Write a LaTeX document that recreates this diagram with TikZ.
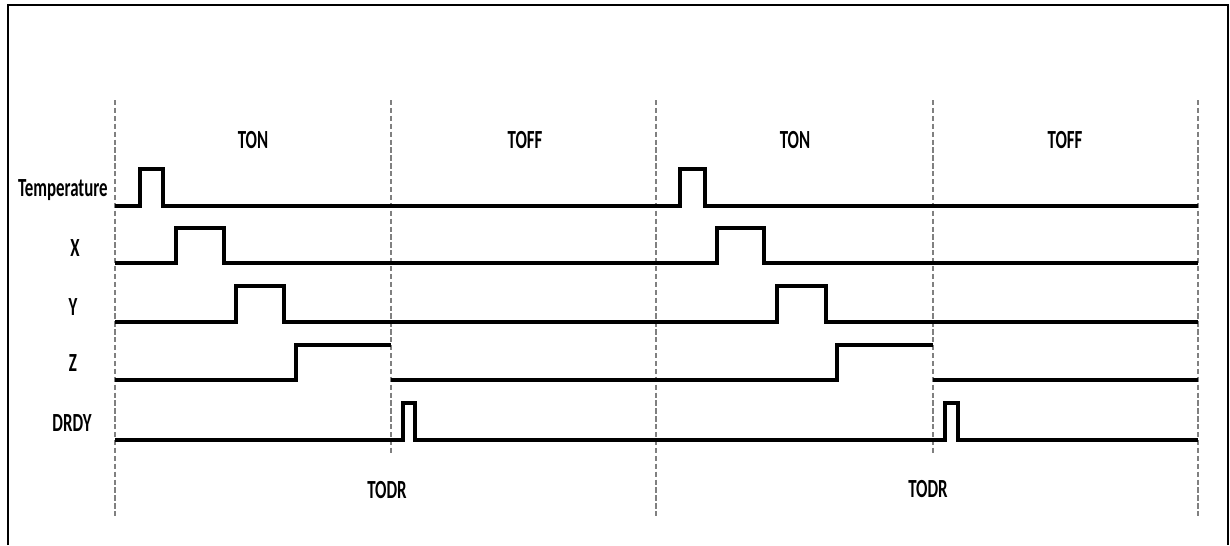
\documentclass[tikz,border=0pt]{standalone}
\usepackage{fontspec}
\setmainfont{Carlito}
\newcommand{\tall}[1]{\scalebox{1}[1.55]{#1}}
\tikzset{
  sig/.style={line width=1.8pt,line join=miter},
  grid/.style={gray,line width=0.75pt,dash pattern=on 3pt off 1.5pt},
  lbl/.style={inner sep=0pt,font=\bfseries\fontsize{9.6}{11}\selectfont}
}
\begin{document}
\begin{tikzpicture}[x=0.02cm,y=-0.02cm]
\useasboundingbox (0,0) rectangle (1230,545);
\draw[line width=1.4pt] (8,545)--(8,5)--(1228,5)--(1228,545);

% period lines
\draw[grid] (115,100)--(115,518);
\draw[grid] (391,100)--(391,455);
\draw[grid] (656,100)--(656,518);
\draw[grid] (933,100)--(933,455);
\draw[grid] (1198,100)--(1198,518);

\node[lbl] (ton1) at (253,140) {\tall{TON}};
\node[lbl] (toff1) at (525,140) {\tall{TOFF}};
\node[lbl] (ton2) at (795,140) {\tall{TON}};
\node[lbl] (toff2) at (1065,140) {\tall{TOFF}};
\node[lbl] (todr1) at (387,490) {\tall{TODR}};
\node[lbl] (todr2) at (928,489) {\tall{TODR}};

\node[lbl,anchor=east] (temp) at (108,190) {\tall{Temperature}};
\node[lbl] (xl) at (75,248) {\tall{X}};
\node[lbl] (yl) at (73,307) {\tall{Y}};
\node[lbl] (zl) at (73,363) {\tall{Z}};
\node[lbl] (drdy) at (72,423) {\tall{DRDY}};

% signals
\draw[sig] (115,206)--(140,206)--(140,169)--(163,169)--(163,206)--(680,206)--(680,169)--(705,169)--(705,206)--(1198,206);
\draw[sig] (115,263)--(176,263)--(176,228)--(224,228)--(224,263)--(717,263)--(717,228)--(764,228)--(764,263)--(1198,263);
\draw[sig] (115,322)--(236,322)--(236,286)--(284,286)--(284,322)--(777,322)--(777,286)--(826,286)--(826,322)--(1198,322);
\draw[sig] (115,380)--(296,380)--(296,345)--(391,345);
\draw[sig] (391,380)--(837,380)--(837,345)--(933,345);
\draw[sig] (933,380)--(1198,380);
\draw[sig] (115,440)--(403,440)--(403,403)--(415,403)--(415,440)--(945,440)--(945,403)--(958,403)--(958,440)--(1198,440);

\end{tikzpicture}
\end{document}
